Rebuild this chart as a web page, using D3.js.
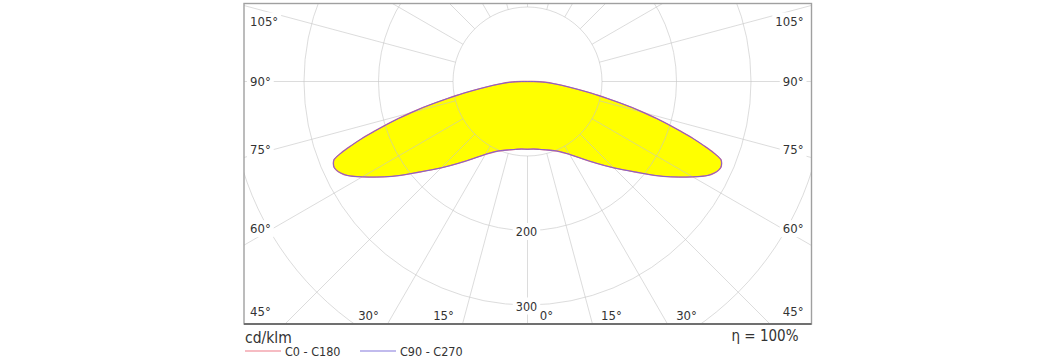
<!DOCTYPE html>
<html><head><meta charset="utf-8">
<script src="https://cdn.jsdelivr.net/npm/d3@7"></script>
<style>
body{margin:0;background:#fff}
svg{display:block}
text{font-family:"DejaVu Sans Condensed","DejaVu Sans",sans-serif;fill:#333}
</style>
</head><body>
<svg id="chart" width="1054" height="360"></svg>
<script>
// ---- data (cd/klm), gamma angle measured from nadir ----
const gammaAngles = [0,5,10,15,20,25,30,35,40,45,50,55,60,62.5,64,65,66,67,68,69,70,71,72,73,74,75,76,77,78,79,80,82.5,85,87.5,90];
const c0c180  = [91,91,92.5,95,98.5,104,113,126,143,164,189,222,256,273,279.5,282.5,284,283,280,268,252,235,216,198,180,162,145,127,110,95,82,55,37,24,8];
const c90c270 = [91,91,92.5,95,98.5,104,113,126,143,164,189,222,256,273,279.5,282.5,284,283,280,268,252,235,216,198,180,162,145,127,110,95,82,55,37,24,8];
const ringValues = [100,200,300,400];
const ringLabelValues = [200,300];
const spokeAngles = d3.range(0,360,15);
const sideLabelAngles = [105,90,75,60,45];
const bottomLabelAngles = [30,15,0,15,30];
const bottomLabelSides = [-1,-1,1,1,1];
const seriesNames = ["C0 - C180","C90 - C270"];
const unitLabel = "cd/klm";
const efficiencyLabel = "η = 100%";

// ---- layout ----
const svg = d3.select("#chart");
const frame = {x0:244, y0:3.5, x1:811.5, y1:324};
const cx = 527.5, cy = 81.5;
const r = d3.scaleLinear().domain([0,100]).range([0,74.5]);
const rad = d => d*Math.PI/180;
const gridColor = "#c4c4c4";

svg.append("defs").append("clipPath").attr("id","clip")
  .append("rect").attr("x",frame.x0).attr("y",frame.y0)
  .attr("width",frame.x1-frame.x0).attr("height",frame.y1-frame.y0);

// closed polar curve: right half (nadir -> 90°), upper hemisphere (0), left half back to nadir
function halfPts(values, side){
  return gammaAngles.map((g,i)=>({a: Math.PI - side*rad(g), v: values[i]}));
}
function curveData(values){
  const right = halfPts(values, 1);
  const top = [{a: 0, v: 0}];
  const left = halfPts(values, -1).slice(1).reverse();
  return right.concat(top, left);
}
const radial = d3.lineRadial().angle(d=>d.a).radius(d=>r(d.v)).curve(d3.curveCatmullRomClosed.alpha(0.5));

// fill
svg.append("path").attr("transform",`translate(${cx},${cy})`)
  .attr("d", radial(curveData(c0c180))).attr("fill","#ffff00").attr("stroke","none");

// grid
const grid = svg.append("g").attr("clip-path","url(#clip)")
  .attr("stroke",gridColor).attr("stroke-opacity",0.6).attr("fill","none").attr("stroke-width",1);
grid.selectAll("circle").data(ringValues).join("circle")
  .attr("cx",cx).attr("cy",cy).attr("r",d=>r(d));
grid.selectAll("line").data(spokeAngles).join("line")
  .attr("x1",d=>cx+r(100)*Math.sin(rad(d))).attr("y1",d=>cy+r(100)*Math.cos(rad(d)))
  .attr("x2",d=>cx+r(700)*Math.sin(rad(d))).attr("y2",d=>cy+r(700)*Math.cos(rad(d)));

// curves
svg.append("path").attr("transform",`translate(${cx},${cy})`)
  .attr("d", radial(curveData(c0c180))).attr("fill","none").attr("stroke","#e87080").attr("stroke-width",1.4);
svg.append("path").attr("transform",`translate(${cx},${cy})`)
  .attr("d", radial(curveData(c90c270))).attr("fill","none").attr("stroke","#7060d8").attr("stroke-width",1).attr("stroke-opacity",0.85);

// labels with white background
function label(txt, x, y, anchor, size){
  const g = svg.append("g");
  const t = g.append("text").attr("x",x).attr("y",y).attr("text-anchor",anchor)
    .attr("font-size",size).attr("dominant-baseline","central").text(txt);
  const b = t.node().getBBox();
  g.insert("rect","text").attr("x",b.x-3).attr("y",b.y-1).attr("width",b.width+6).attr("height",b.height+2).attr("fill","#fff");
  return t;
}
ringLabelValues.forEach(v=>{
  label(String(v), cx-1, cy+r(v)+1, "middle", 12.5);
});
const sideDist = 255;
sideLabelAngles.forEach(a=>{
  let y = cy + sideDist/Math.tan(rad(a));
  if (a===90) y = cy;
  y = Math.max(frame.y0+17.5, Math.min(frame.y1-13, y));
  label(a+"°", frame.x0+6, y, "start", 13);
  label(a+"°", frame.x1-8, y, "end", 13);
});
bottomLabelAngles.forEach((a,i)=>{
  const s = bottomLabelSides[i];
  const dy = frame.y1-cy;
  const x = cx + s*dy*Math.tan(rad(a)) + s*19;
  label(a+"°", x, frame.y1-9, "middle", 13);
});

// frame
svg.append("rect").attr("x",frame.x0).attr("y",frame.y0).attr("width",frame.x1-frame.x0).attr("height",frame.y1-frame.y0)
  .attr("fill","none").attr("stroke","#a0a0a0").attr("stroke-width",1.4);
svg.append("line").attr("x1",frame.x0).attr("x2",frame.x1).attr("y1",frame.y1).attr("y2",frame.y1)
  .attr("stroke","#707070").attr("stroke-width",2);

// bottom texts
svg.append("text").attr("x",frame.x0+1).attr("y",337.5).attr("dominant-baseline","central")
  .attr("font-size",15.5).text(unitLabel);
svg.append("text").attr("x",frame.x1-13).attr("y",335.5).attr("dominant-baseline","central")
  .attr("text-anchor","end").attr("font-size",15).text(efficiencyLabel);
const legColors = ["#ee7a88","#8478dc"];
const legX = [frame.x0+1, frame.x0+116];
seriesNames.forEach((n,i)=>{
  svg.append("line").attr("x1",legX[i]).attr("x2",legX[i]+36).attr("y1",351).attr("y2",351)
    .attr("stroke",legColors[i]).attr("stroke-width",1.2);
  svg.append("text").attr("x",legX[i]+40).attr("y",351).attr("dominant-baseline","central")
    .attr("font-size",12.5).text(n);
});
</script>
</body></html>
